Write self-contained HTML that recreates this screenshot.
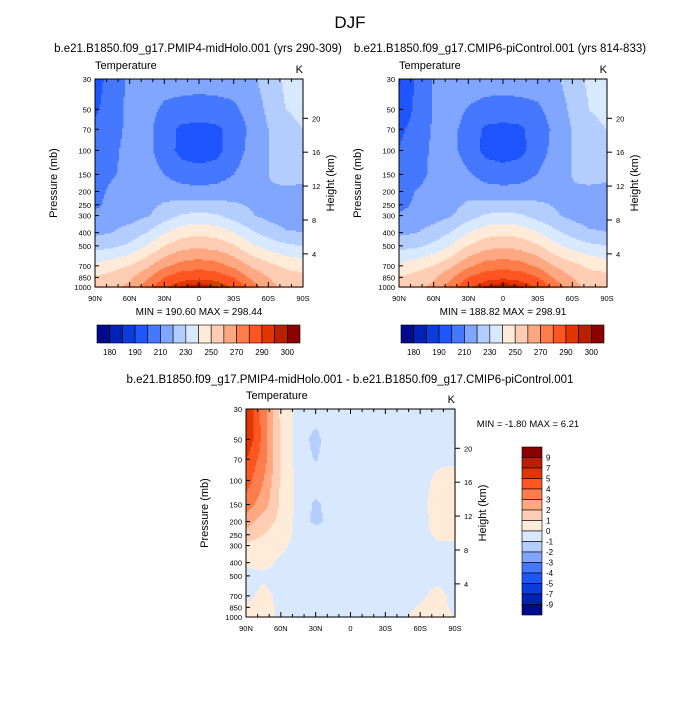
<!DOCTYPE html>
<html><head><meta charset="utf-8"><style>
body{margin:0;background:#fff}
svg text{font-family:"Liberation Sans",sans-serif;fill:#000}
</style></head><body>
<svg id="s" width="700" height="700" xmlns="http://www.w3.org/2000/svg">
<rect width="700" height="700" fill="#fff"/>
<text x="350" y="28" font-size="17" text-anchor="middle">DJF</text>
<text x="198" y="52" font-size="11.5" text-anchor="middle">b.e21.B1850.f09_g17.PMIP4-midHolo.001 (yrs 290-309)</text>
<text x="500" y="52" font-size="11.5" text-anchor="middle">b.e21.B1850.f09_g17.CMIP6-piControl.001 (yrs 814-833)</text>
<text x="350" y="383" font-size="11.5" text-anchor="middle">b.e21.B1850.f09_g17.PMIP4-midHolo.001 - b.e21.B1850.f09_g17.CMIP6-piControl.001</text>
</svg>
<script>
const NS="http://www.w3.org/2000/svg";
const svg=document.getElementById('s');
const lats=[90,75,60,45,30,15,0,-15,-30,-45,-60,-75,-90];
const levs=[30,50,70,100,150,200,250,300,400,500,700,850,1000];
const pTicks=[30,50,70,100,150,200,250,300,400,500,700,850,1000];
const hTicks=[20,16,12,8,4];
const xTickLabels=["90N","60N","30N","0","30S","60S","90S"];
const tempLevels=[180,185,190,200,210,220,230,240,250,260,270,280,290,295,300];
const tempLabels=["180","190","210","230","250","270","290","300"];
const diffLevels=[-9,-7,-5,-4,-3,-2,-1,0,1,2,3,4,5,7,9];
const diffLabels=["9","7","5","4","3","2","1","0","-1","-2","-3","-4","-5","-7","-9"];
const colors=["#000a8c","#0022b4","#0a3ddc","#1f55ff","#4678ff","#80a6ff","#b4cdff","#d7e8ff","#ffebd8","#ffcdb4","#ffa882","#ff7d4b","#ff5521","#e03700","#b82100","#8b0000"];
const holo=[
[195,205,212,215,215,215,215,215,215,218,224,232,235],
[198,206,212,214,208,206,205,206,208,214,222,230,233],
[203,207,212,213,204,198,197,198,204,212,220,226,230],
[205,208,213,213,205,197,195,197,205,213,220,226,229],
[207,209,213,214,210,205,204,205,210,215,220,224,224],
[207,212,214,215,216,214,213,214,216,219,219,218,217],
[208,213,215,217,221,223,223,223,221,219,216,215,214],
[212,215,216,219,225,231,233,231,226,221,217,215,215],
[218,220,224,230,239,246,247,246,240,232,226,221,220],
[226,228,232,240,250,256,258,256,251,242,236,232,230],
[242,246,250,258,268,274,276,274,268,259,253,248,245],
[251,254,258,268,280,286,288,286,280,268,260,255,253],
[254,258,262,275,288,296,299,296,289,276,264,257,255]];
const diff=[
[6.0,3.5,0.8,-0.3,-0.5,-0.3,-0.3,-0.3,-0.3,-0.3,-0.3,-0.3,-0.3],
[6.0,3.6,0.9,-0.5,-1.3,-0.3,-0.3,-0.3,-0.3,-0.3,-0.3,-0.3,-0.3],
[5.0,3.5,0.9,-0.4,-1.1,-0.3,-0.3,-0.3,-0.3,-0.3,-0.3,-0.2,-0.2],
[4.5,3.0,0.9,-0.3,-0.4,-0.3,-0.3,-0.3,-0.3,-0.3,-0.3,0.2,0.5],
[3.5,2.5,0.8,-0.3,-1.2,-0.5,-0.3,-0.3,-0.3,-0.3,-0.2,0.3,0.5],
[2.5,1.5,0.7,-0.3,-1.3,-0.6,-0.3,-0.3,-0.3,-0.3,-0.3,0.3,0.8],
[1.5,1.0,0.5,-0.3,-0.3,-0.3,-0.3,-0.3,-0.3,-0.3,-0.3,0.2,0.3],
[0.8,0.6,0.2,-0.3,-0.3,-0.3,-0.3,-0.3,-0.3,-0.3,-0.3,-0.2,-0.2],
[0.2,0.3,-0.2,-0.3,-0.3,-0.3,-0.3,-0.3,-0.3,-0.3,-0.3,-0.3,-0.3],
[-0.3,-0.2,-0.3,-0.3,-0.3,-0.3,-0.3,-0.3,-0.3,-0.3,-0.3,-0.3,-0.3],
[-0.3,0.3,-0.3,-0.3,-0.3,-0.3,-0.3,-0.3,-0.3,-0.3,-0.2,0.3,-0.3],
[0.2,0.5,-0.3,-0.3,-0.3,-0.3,-0.3,-0.3,-0.3,-0.3,0.1,0.5,-0.3],
[0.2,0.5,-0.3,-0.3,-0.3,-0.3,-0.3,-0.3,-0.3,-0.2,0.4,0.5,0]];
const ctrl=holo.map((r,i)=>r.map((v,j)=>v-diff[i][j]));

function el(tag,attrs,parent){const e=document.createElementNS(NS,tag);for(const k in attrs)e.setAttribute(k,attrs[k]);(parent||svg).appendChild(e);return e;}
function txt(x,y,s,size,anchor,parent,rot){const t=el('text',{x:x,y:y,'font-size':size,'text-anchor':anchor||'start'},parent);if(rot)t.setAttribute('transform',`rotate(-90 ${x} ${y})`);t.textContent=s;return t;}
function binIdx(v,levels){let i=0;while(i<levels.length&&v>=levels[i])i++;return i;}

function panel(name,X,Y,W,H,field,levels,mm){
  const g=el('g',{});
  
  
  const L=Math.log(1000/30);
  const yOf=p=>Y+Math.log(p/30)/L*H;
  const xOf=lat=>X+(90-lat)/180*W;
  const levY=levs.map(yOf);
  const step=1.5;
  for(let py=0;py<H;py+=step){
    const yy=Y+py+step/2;
    let k=0;while(k<levY.length-2&&yy>levY[k+1])k++;
    const ty=Math.min(1,Math.max(0,(yy-levY[k])/(levY[k+1]-levY[k])));
    let runStart=0,runC=-1;
    const flush=(end)=>{if(runC>=0){el('rect',{x:X+runStart,y:Y+py,width:end-runStart+0.6,height:step+0.6,fill:colors[runC]},g);}};
    for(let px=0;px<W;px+=step){
      const lat=90-(px+step/2)/W*180;
      let j=Math.min(11,Math.floor((90-lat)/15));const tx=((90-lat)-j*15)/15;
      const v=(1-ty)*((1-tx)*field[k][j]+tx*field[k][j+1])+ty*((1-tx)*field[k+1][j]+tx*field[k+1][j+1]);
      const c=binIdx(v,levels);
      if(c!==runC){flush(px);runStart=px;runC=c;}
    }
    flush(W);
  }
  const ax=el('g',{stroke:'#000','stroke-width':1,fill:'none'});
  
  
  el('rect',{x:X,y:Y,width:W,height:H},ax);
  pTicks.forEach(p=>{const y=yOf(p);el('line',{x1:X,x2:X+4,y1:y,y2:y},ax);txt(X-4,y+3,String(p),7.5,'end');});
  for(let lat=90;lat>=-90;lat-=10){const x=xOf(lat);const big=lat%30===0;const l=big?5:3;el('line',{x1:x,x2:x,y1:Y,y2:Y+l},ax);el('line',{x1:x,x2:x,y1:Y+H,y2:Y+H-l},ax);}
  xTickLabels.forEach((s,i)=>txt(X+i*W/6,Y+H+14,s,7.5,'middle'));
  hTicks.forEach(h=>{const p=1013*Math.exp(-h/7);const y=yOf(p);el('line',{x1:X+W,x2:X+W+5,y1:y,y2:y},ax);txt(X+W+9,y+3,String(h),7.5,'start');});
  txt(X,Y-10,'Temperature',11,'start');
  txt(X+W,Y-6,'K',11,'end');
  txt(X-38,Y+H/2,'Pressure (mb)',11,'middle',null,true);
  txt(X+W+31,Y+H/2,'Height (km)',11,'middle',null,true);
  if(mm)txt(X+W/2,Y+H+28,mm,10,'middle');
}
panel('holo-panel',95,79,208,208,holo,tempLevels,'MIN = 190.60  MAX = 298.44');
panel('ctrl-panel',399,79,208,208,ctrl,tempLevels,'MIN = 188.82  MAX = 298.91');
panel('diff-panel',246,409,209,208,diff,diffLevels,null);
txt(528,427,'MIN = -1.80  MAX =   6.21',9.5,'middle');

function hbar(name,X,Y,W,H){
  const g=el('g',{});
  
  
  const n=colors.length,w=W/n;
  colors.forEach((c,i)=>el('rect',{x:X+i*w,y:Y,width:w,height:H,fill:c,stroke:'#000','stroke-width':0.6},g));
  tempLabels.forEach(s=>{const v=+s;const i=tempLevels.indexOf(v);txt(X+(i+1)*w,Y+H+12,s,8,'middle',g);});
}
hbar('holo-colorbar',97,325,203,18);
hbar('ctrl-colorbar',401,325,203,18);
(function(){
  const g=el('g',{});
  
  
  const X=522,Y=447,W=20,H=168,n=colors.length,h=H/n;
  colors.slice().reverse().forEach((c,i)=>el('rect',{x:X,y:Y+i*h,width:W,height:h,fill:c,stroke:'#000','stroke-width':0.6},g));
  diffLabels.forEach((s,i)=>txt(X+W+4,Y+(i+1)*h+3,s,8,'start',g));
})();
</script>
</body></html>
